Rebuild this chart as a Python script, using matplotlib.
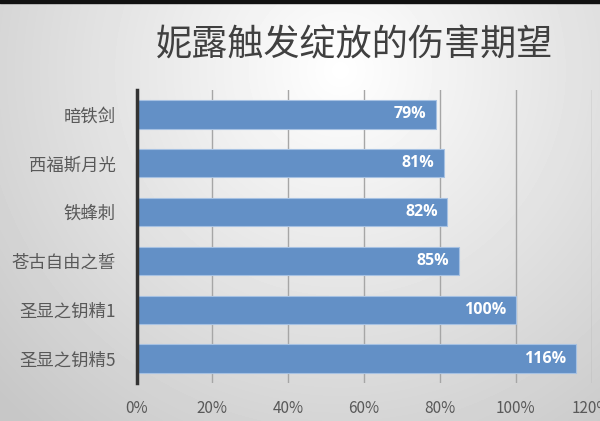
import numpy as np
import matplotlib
matplotlib.use('Agg')
from matplotlib import pyplot as plt
from matplotlib.ticker import FuncFormatter

plt.rcParams['font.family'] = ['Noto Sans CJK SC', 'DejaVu Sans']

weapons = ['暗铁剑', '西福斯月光', '铁蜂刺', '苍古自由之誓', '圣显之钥精1', '圣显之钥精5']
damage = [79, 81, 82, 85, 100, 116]
title = '妮露触发绽放的伤害期望'

W, H = 600, 421
fig = plt.figure(figsize=(W / 100, H / 100), dpi=100)

# radial grey background
bg = fig.add_axes([0, 0, 1, 1])
yy, xx = np.mgrid[0:H, 0:W]
r = np.hypot(xx - 340, yy - 70)
shade = 1 - 0.22 * np.clip(r / 470, 0, 1)
bg.imshow(shade, cmap='gray', vmin=0, vmax=1, extent=(0, W, H, 0), aspect='auto')
bg.fill_between([0, W], 0, 3, color='#111111')
bg.set_xlim(0, W)
bg.set_ylim(H, 0)
bg.axis('off')

ax = fig.add_axes([136.5 / W, 1 - 383 / H, (591.5 - 136.5) / W, (383 - 90) / H])
ax.set_facecolor('none')
ax.barh(weapons, damage, height=0.58, color='#6390c6', edgecolor='#a6c1e2', linewidth=0.8, zorder=3)
ax.set_xlim(0, 120)
ax.set_ylim(5.5, -0.5)
ax.set_xticks(range(0, 121, 20))
ax.xaxis.set_major_formatter(FuncFormatter(lambda v, p: f'{int(v)}%'))
ax.grid(axis='x', color='#a6a6a6', linewidth=1, zorder=0)
for s in ['top', 'right', 'bottom']:
    ax.spines[s].set_visible(False)
ax.spines['left'].set_color('#333333')
ax.spines['left'].set_linewidth(2.5)
ax.spines['left'].set_zorder(4)
ax.tick_params(length=0)
ax.tick_params(axis='y', pad=15, labelsize=12.5, labelcolor='#595959')
ax.tick_params(axis='x', pad=12, labelsize=11, labelcolor='#595959')

for i, v in enumerate(damage):
    ax.annotate(f'{v}%', (v, i), xytext=(-7, 0), textcoords='offset points',
                ha='right', va='center', color='white', fontweight='bold',
                fontsize=11.5, family=['Open Sans', 'DejaVu Sans'], zorder=5)

fig.text(355 / W, 1 - 45 / H, title, ha='center', va='center', fontsize=26, color='#404040')

fig.savefig('out.png', dpi=100)
